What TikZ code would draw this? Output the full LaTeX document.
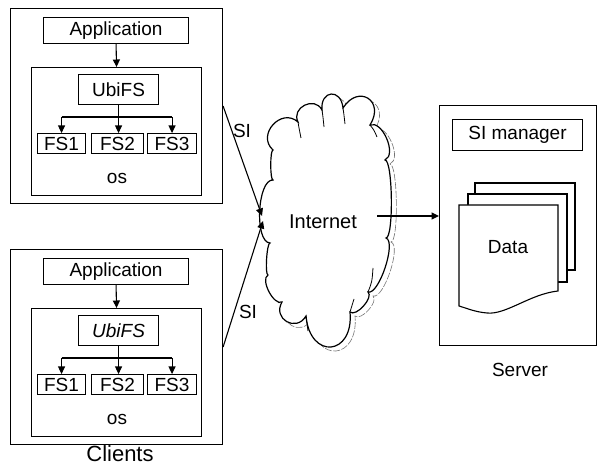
\documentclass[tikz,border=0pt]{standalone}
\usepackage{fontspec}
\setmainfont{Liberation Sans}
\usetikzlibrary{arrows.meta,calc}

\tikzset{
  box/.style={draw, line width=1.1pt, inner sep=0pt, anchor=north west, fill=white},
  lbl/.style={inner sep=0pt, font=\fontsize{19}{22}\selectfont},
  arr/.style={line width=1.1pt, -{Triangle[length=7.5pt,width=7pt]}},
  link/.style={line width=1.1pt},
  sheet/.style={draw, line width=1.1pt, fill=white},
  cloudline/.style={draw, line width=1.2pt, fill=white},
  cloudstub/.style={draw, line width=0.8pt},
  cloudshade/.style={draw=black!55, line width=0.6pt, dash pattern=on 7pt off 1.5pt},
}

% one bump of the cloud outline, bulging outwards (k = bulge factor)
\newcommand\cb[3]{.. controls ($(#1)!#3!90:(#2)$) and ($(#2)!#3!-90:(#1)$) .. (#2)}
\newcommand\cloudoutline{(273,150)
  \cb{273,150}{298,122}{0.6}
  \cb{298,122}{322,110}{0.6}
  \cb{322,110}{343,108}{0.95}
  \cb{343,108}{370,125}{0.9}
  \cb{370,125}{385,160}{0.35}
  \cb{385,160}{386,238}{0.1}
  \cb{386,238}{368,292}{0.2}
  \cb{368,292}{350,312}{0.3}
  \cb{350,312}{306,316}{1.0}
  \cb{306,316}{282,302}{0.7}
  \cb{282,302}{268,275}{0.3}
  \cb{268,275}{270,243}{0.1}
  \cb{270,243}{273,180}{0.25}
  \cb{273,180}{273,150}{0.1} -- cycle}

% a client block: name prefix, vertical offset, font of the UbiFS label
\newcommand\clientblock[3]{%
  \begin{scope}[shift={(0,#2)}]
    \node[box, minimum width=212pt, minimum height=195pt] (#1out) at (10,8) {};
    \node[lbl, box, minimum width=145pt, minimum height=26pt] (#1app) at (43,17) {Application};
    \node[box, minimum width=170pt, minimum height=128pt] (#1os) at (31,67) {};
    \node[lbl, box, minimum width=80pt, minimum height=30pt] (#1ubi) at (78,74) {#3UbiFS};
    \node[lbl, box, minimum width=48pt, minimum height=20pt] (#1fsa) at (37,133) {FS1};
    \node[lbl, box, minimum width=52pt, minimum height=20pt] (#1fsb) at (91,133) {FS2};
    \node[lbl, box, minimum width=49pt, minimum height=20pt] (#1fsc) at (147,133) {FS3};
    \node[lbl] (#1ostxt) at (117,178) {os};
    \coordinate (#1br) at (118,117);
  \end{scope}
  \draw[arr] (#1app.south) -- (#1os.north);
  \draw[link] (#1ubi.south) -- (#1ubi.south |- #1br);
  \draw[link] (#1fsa.north |- #1br) -- (#1fsc.north |- #1br);
  \draw[arr] (#1fsa.north |- #1br) -- (#1fsa.north);
  \draw[arr] (#1ubi.south |- #1br) -- (#1ubi.south |- #1fsb.north);
  \draw[arr] (#1fsc.north |- #1br) -- (#1fsc.north);
}

\begin{document}
\begin{tikzpicture}[x=1pt, y=-1pt]
  \useasboundingbox (0,0) rectangle (603,470);

  % clients
  \clientblock{c1}{0}{}
  \clientblock{c2}{241}{\itshape}
  \node[inner sep=0pt, font=\fontsize{22}{25}\selectfont] (clients) at (120,454) {Clients};

  % internet cloud with its faint offset outline
  \begin{scope}[shift={(5,4)}]
    \path[cloudshade] \cloudoutline;
  \end{scope}
  \path[cloudline] \cloudoutline;
  % overlapping lobes show as short strokes inside the outline
  \path[cloudstub] (298,122) .. controls (299,128) .. (301,138);
  \path[cloudstub] (322,110) .. controls (323,117) .. (324,127);
  \path[cloudstub] (343,108) .. controls (344,115) .. (345,124);
  \path[cloudstub] (370,125) .. controls (374,130) .. (377,137);
  \path[cloudstub] (306,316) .. controls (307,323) .. (308,331);
  \path[cloudstub] (350,312) .. controls (352,306) .. (354,299);
  \path[cloudstub] (368,292) .. controls (372,282) .. (373,268);
  \node[inner sep=0pt, font=\fontsize{20}{24}\selectfont] (inet) at (323,222) {Internet};

  % server
  \node[box, minimum width=157pt, minimum height=240pt] (srv) at (439,105) {};
  \node[lbl, box, minimum width=130pt, minimum height=31pt] (sim) at (452,119) {SI manager};
  \draw[sheet] (475,183) rectangle (575,270);
  \draw[sheet] (468,194) rectangle (567,282);
  \draw[sheet] (459,205) -- (558,205) -- (558,291)
    .. controls (530,294) and (506,315) .. (487,313)
    .. controls (475,312) and (466,308) .. (459,306) -- cycle;
  \node[lbl] (data) at (508,247) {Data};
  \node[lbl] (srvlbl) at (520,370) {Server};

  % connections
  \coordinate (cinA) at (262,216);
  \coordinate (cinB) at (263,221);
  \coordinate (cout) at (377,216);
  \draw[arr] (c1out.east) -- (cinA);
  \draw[arr] (c2out.east) -- (cinB);
  \draw[arr] (cout) -- (cout -| srv.west);
  \node[lbl] (si1) at (242,131) {SI};
  \node[lbl] (si2) at (248,312) {SI};
\end{tikzpicture}
\end{document}
